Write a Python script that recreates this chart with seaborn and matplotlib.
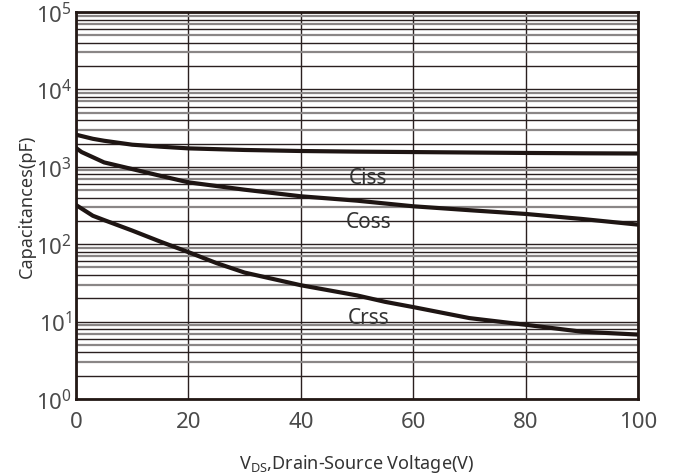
import numpy as np
import pandas as pd
import matplotlib
matplotlib.use("Agg")
import matplotlib.pyplot as plt
import seaborn as sns
from matplotlib.ticker import LogLocator, LogFormatterMathtext, FixedLocator, NullFormatter

# ---- data ----
ciss_v = [0, 3, 5, 10, 15, 20, 30, 40, 50, 60, 70, 80, 90, 100]
ciss_c = [2600, 2300, 2170, 1930, 1820, 1730, 1650, 1600, 1570, 1550, 1530, 1510, 1495, 1485]

coss_v = [0, 1, 3, 5, 10, 15, 20, 30, 40, 50, 60, 70, 80, 90, 100]
coss_c = [1750, 1550, 1330, 1140, 935, 765, 630, 506, 416, 365, 309, 275, 246, 212, 179]

crss_v = [0, 3, 5, 10, 15, 20, 25, 30, 40, 50, 55, 60, 70, 80, 90, 100]
crss_c = [321, 233, 205, 150, 108, 79, 57, 43, 29.5, 21.8, 18, 15.4, 11.1, 9.1, 7.4, 6.8]

series_names = ["Ciss", "Coss", "Crss"]
x_ticks = [0, 20, 40, 60, 80, 100]
x_label = r"V$_{\mathregular{DS}}$,Drain-Source Voltage(V)"
y_label = "Capacitances(pF)"

df = pd.concat([
    pd.DataFrame({"V": ciss_v, "C": ciss_c, "s": "Ciss"}),
    pd.DataFrame({"V": coss_v, "C": coss_c, "s": "Coss"}),
    pd.DataFrame({"V": crss_v, "C": crss_c, "s": "Crss"}),
])

sns.set_style("white")
plt.rcParams["font.family"] = ["Noto Sans", "DejaVu Sans"]
plt.rcParams["mathtext.fontset"] = "custom"
plt.rcParams["mathtext.rm"] = "Noto Sans"
plt.rcParams["mathtext.it"] = "Noto Sans"
plt.rcParams["mathtext.bf"] = "Noto Sans"

fig = plt.figure(figsize=(6.78, 4.77), dpi=100)
ax = fig.add_axes([76 / 678, 1 - 400 / 477, (638 - 76) / 678, (400 - 13) / 477])

line_col = "#1e1513"
sns.lineplot(data=df, x="V", y="C", hue="s", palette=[line_col] * 3,
             legend=False, ax=ax, linewidth=3.0, zorder=5)

ax.set_yscale("log")
ax.set_xlim(0, 100)
ax.set_ylim(1, 1e5)

# grid
ax.xaxis.set_major_locator(FixedLocator(x_ticks))
ax.yaxis.set_major_locator(LogLocator(base=10, numticks=10))
ax.yaxis.set_major_formatter(LogFormatterMathtext())
ax.yaxis.set_minor_locator(LogLocator(base=10, subs=np.arange(2, 10), numticks=100))
ax.yaxis.set_minor_formatter(NullFormatter())
ax.grid(True, which="major", axis="both", color="#2a2020", linewidth=1.0)
ax.grid(True, which="minor", axis="y", color="#2a2020", linewidth=1.0)
for i, t in enumerate(ax.yaxis.get_minor_ticks()):
    t.gridline.set_color("#2a2020" if i % 2 == 0 else "#8a8686")
    t.gridline.set_linewidth(1.0 if i % 2 == 0 else 1.6)
ax.set_axisbelow(True)

for sp in ax.spines.values():
    sp.set_color("#231815")
    sp.set_linewidth(2.0)

ax.tick_params(axis="both", which="both", length=0, colors="#4a4a4a")
ax.tick_params(axis="x", pad=9, labelsize=16)
ax.tick_params(axis="y", pad=3, labelsize=16)

ax.set_xlabel(x_label, fontsize=13, color="#333333", labelpad=14)
ax.set_ylabel(y_label, fontsize=13, color="#333333", labelpad=0)

# series labels
label_pos = {"Ciss": (52, 1e3 * 10 ** (-(179 - 167.8) / 77.4)),
             "Coss": (52, 1e3 * 10 ** (-(223 - 167.8) / 77.4)),
             "Crss": (52, 1e3 * 10 ** (-(319 - 167.8) / 77.4))}
for name in series_names:
    x, y = label_pos[name]
    ax.text(x, y, name, fontsize=15, color="#333333", ha="center", va="center", zorder=6)

fig.savefig("out.png", dpi=100)
